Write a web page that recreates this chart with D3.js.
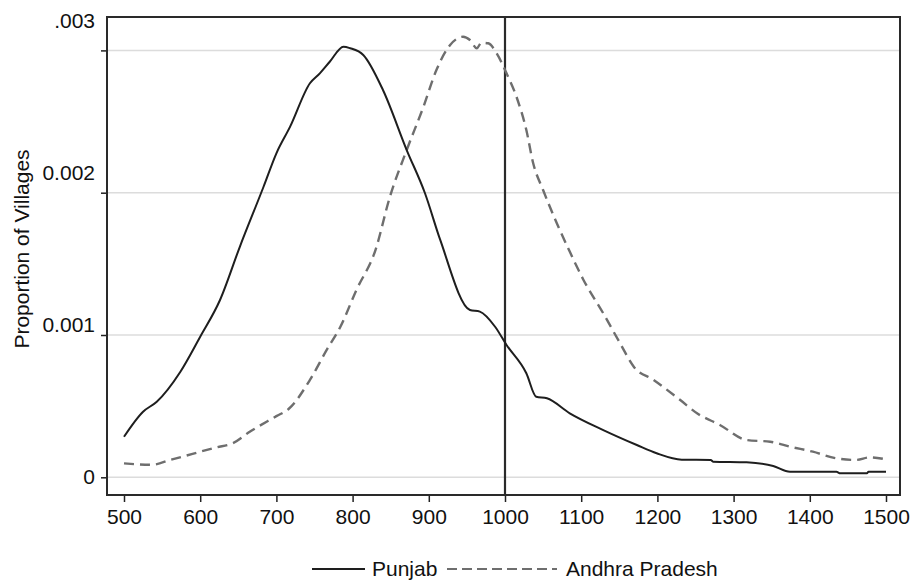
<!DOCTYPE html>
<html>
<head>
<meta charset="utf-8">
<script src="https://cdn.jsdelivr.net/npm/d3@7"></script>
<style>
  html, body { margin: 0; padding: 0; background: #fff; }
  svg text { font-family: "Liberation Sans", Arial, sans-serif; fill: #111; }
</style>
</head>
<body>
<svg id="chart" width="911" height="585"></svg>
<script>
// Sex-ratio distribution: proportion of villages by girls per 1000 boys
const punjabX = [500, 525, 543, 574, 600, 626, 652, 683, 700, 718, 744, 757, 770, 788, 797, 814, 840, 871, 895, 915,
  954, 967, 987, 1002, 1028, 1041, 1055, 1085, 1129, 1173, 1199, 1232, 1270, 1273, 1317, 1352, 1374, 1435, 1440, 1475, 1477, 1500];
const punjabY = [0.000285, 0.000461, 0.000531, 0.000742, 0.000988, 0.001246, 0.00162, 0.00204, 0.002277, 0.002464,
  0.002769, 0.002839, 0.00292, 0.003026, 0.003015, 0.002968, 0.00272, 0.0023, 0.001996, 0.001668,
  0.001176, 0.001164, 0.001058, 0.00093, 0.000731, 0.000566, 0.000555, 0.00045, 0.000332, 0.000227,
  0.000169, 0.000124, 0.000122, 0.00011, 0.000105, 0.000079, 0.000039, 0.000039, 0.000028, 0.000028, 0.000039, 0.000039];

const andhraX = [500, 536, 562, 621, 643, 665, 700, 716, 744, 766, 784, 805, 830, 849, 871, 893, 910, 928, 945, 954,
  963, 969, 978, 989, 1002, 1015, 1028, 1037, 1050, 1068, 1084, 1103, 1129, 1151, 1169, 1195, 1230, 1252,
  1282, 1317, 1348, 1374, 1404, 1435, 1461, 1479, 1500];
const andhraY = [0.000098, 0.000088, 0.000124, 0.00021, 0.00024, 0.00032, 0.00043, 0.00048, 0.000684, 0.000895,
  0.001058, 0.001316, 0.001597, 0.001972, 0.0023, 0.002604, 0.002862, 0.003038, 0.003096, 0.003073,
  0.003015, 0.003054, 0.00305, 0.00298, 0.002839, 0.002675, 0.00244, 0.002207, 0.002019, 0.001785,
  0.001597, 0.001387, 0.001152, 0.000942, 0.000777, 0.000684, 0.000543, 0.00045,
  0.000368, 0.000262, 0.00025, 0.000215, 0.00018, 0.000133, 0.000122, 0.00014, 0.000126];

const xTicks = [500, 600, 700, 800, 900, 1000, 1100, 1200, 1300, 1400, 1500];
const yTicks = [0, 0.001, 0.002, 0.003];
const yTickLabels = ["0", "0.001", "0.002", ".003"];
const referenceLine = 1000;
const seriesNames = ["Punjab", "Andhra Pradesh"];

const svg = d3.select("#chart");
const frame = { left: 107, right: 900, top: 17, bottom: 495 };

const x = d3.scaleLinear().domain([500, 1500]).range([124, 886]);
const y = d3.scaleLinear().domain([0, 0.003]).range([477.3, 50.4]);
// tick labels sit on a slightly wider spacing than the tick marks
const yLabel = d3.scaleLinear().domain([0, 0.003]).range([476, 20]);

// horizontal grid lines
svg.append("g")
  .selectAll("line")
  .data(yTicks)
  .join("line")
  .attr("x1", frame.left).attr("x2", frame.right)
  .attr("y1", d => y(d)).attr("y2", d => y(d))
  .attr("stroke", "#dcdcdc").attr("stroke-width", 1.5);

// y axis ticks
const yAxis = svg.append("g")
  .attr("transform", `translate(${frame.left},0)`)
  .call(d3.axisLeft(y).tickValues(yTicks).tickSize(6).tickFormat(""));
yAxis.select(".domain").remove();
yAxis.selectAll("line").attr("stroke", "#222").attr("stroke-width", 1.5);

svg.append("g")
  .selectAll("text")
  .data(yTicks)
  .join("text")
  .attr("x", 95)
  .attr("y", d => yLabel(d))
  .attr("dy", "0.36em")
  .attr("text-anchor", "end")
  .attr("font-size", 21)
  .text((d, i) => yTickLabels[i]);

// x axis
const xAxis = svg.append("g")
  .attr("transform", `translate(0,${frame.bottom})`)
  .call(d3.axisBottom(x).tickValues(xTicks).tickSize(7).tickPadding(7).tickFormat(d3.format("d")));
xAxis.select(".domain").remove();
xAxis.selectAll("line").attr("stroke", "#222").attr("stroke-width", 1.5);
xAxis.selectAll("text")
  .attr("font-size", 21)
  .attr("font-family", "Liberation Sans, Arial, sans-serif")
  .attr("fill", "#111");

// plot frame
svg.append("rect")
  .attr("x", frame.left).attr("y", frame.top)
  .attr("width", frame.right - frame.left).attr("height", frame.bottom - frame.top)
  .attr("fill", "none").attr("stroke", "#2a2a2a").attr("stroke-width", 2);

// vertical reference line at 1000
svg.append("line")
  .attr("x1", x(referenceLine)).attr("x2", x(referenceLine))
  .attr("y1", frame.top).attr("y2", frame.bottom)
  .attr("stroke", "#2a2a2a").attr("stroke-width", 2.2);

const line = d3.line()
  .x(d => x(d[0]))
  .y(d => y(d[1]))
  .curve(d3.curveMonotoneX);

const punjab = punjabX.map((v, i) => [v, punjabY[i]]);
const andhra = andhraX.map((v, i) => [v, andhraY[i]]);

svg.append("path")
  .datum(andhra)
  .attr("d", line)
  .attr("fill", "none")
  .attr("stroke", "#6e6e6e")
  .attr("stroke-width", 2.4)
  .attr("stroke-dasharray", "10,6");

svg.append("path")
  .datum(punjab)
  .attr("d", line)
  .attr("fill", "none")
  .attr("stroke", "#1e1e1e")
  .attr("stroke-width", 2);

// y axis title
svg.append("text")
  .attr("transform", "translate(29,249) rotate(-90)")
  .attr("text-anchor", "middle")
  .attr("font-size", 21)
  .text("Proportion of Villages");

// legend
const legend = svg.append("g");
legend.append("line")
  .attr("x1", 312).attr("x2", 365).attr("y1", 569).attr("y2", 569)
  .attr("stroke", "#1e1e1e").attr("stroke-width", 2);
legend.append("text")
  .attr("x", 372).attr("y", 576)
  .attr("font-size", 21)
  .text(seriesNames[0]);
legend.append("line")
  .attr("x1", 447).attr("x2", 557).attr("y1", 569).attr("y2", 569)
  .attr("stroke", "#6e6e6e").attr("stroke-width", 2)
  .attr("stroke-dasharray", "10,5");
legend.append("text")
  .attr("x", 566).attr("y", 576)
  .attr("font-size", 21)
  .text(seriesNames[1]);
</script>
</body>
</html>
